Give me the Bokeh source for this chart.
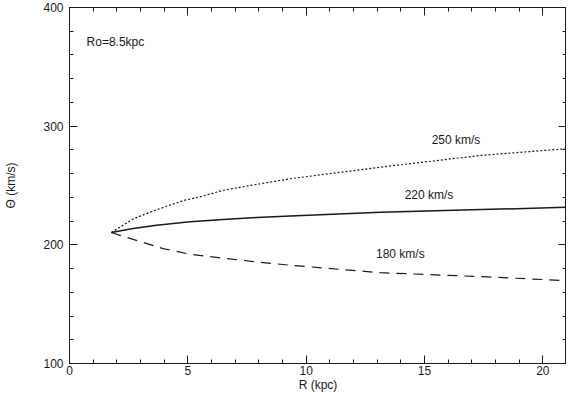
from bokeh.plotting import figure
from bokeh.models import LinearAxis, SingleIntervalTicker, Range1d, Label, CustomJSTickFormatter
from bokeh.embed import file_html
from bokeh.resources import INLINE

# Data (R in kpc, Theta in km/s)
R_250 = [1.77, 2.69, 3.39, 4.10, 4.81, 5.52, 6.50, 7.92, 9.33, 13.15, 17.40, 21.0]
theta_250 = [210.4, 221.8, 227.4, 232.5, 237.3, 240.5, 246, 251, 255.7, 265.5, 275.4, 281]
R_220 = [1.77, 2.69, 3.68, 5.09, 6.50, 7.92, 9.33, 13.15, 17.40, 21.0]
theta_220 = [210.4, 213.7, 216.5, 219.5, 221.3, 223, 224.3, 227.4, 229.7, 231.6]
R_180 = [1.77, 2.26, 3.11, 3.96, 5.09, 6.50, 7.92, 9.33, 13.15, 17.40, 21.0]
theta_180 = [210.4, 207.2, 202, 196.8, 192.1, 188.7, 185.6, 182.8, 176.5, 173.2, 169.8]

curve_labels = ["250 km/s", "220 km/s", "180 km/s"]
label_R = [16.33, 15.19, 13.98]
label_theta = [288, 242, 192.5]
note_text = "Ro=8.5kpc"
note_R, note_theta = 0.72, 371

FONT = "Liberation Sans"
INK = "#1a1a1a"

p = figure(width=566, height=394, output_backend="svg", toolbar_location=None,
           x_range=Range1d(0, 21), y_range=Range1d(100, 400),
           min_border_left=69, min_border_right=0, min_border_top=7, min_border_bottom=28,
           x_axis_label="R (kpc)", y_axis_label="Θ (km/s)")
p.grid.visible = False
p.outline_line_color = INK
p.outline_line_width = 1
p.background_fill_color = "white"
p.border_fill_color = "white"

def style_axis(ax, labels=True):
    ax.major_tick_in = 8
    ax.major_tick_out = 0
    ax.minor_tick_in = 4
    ax.minor_tick_out = 0
    ax.axis_line_color = INK
    ax.major_tick_line_color = INK
    ax.minor_tick_line_color = INK
    ax.major_tick_line_width = 1
    ax.minor_tick_line_width = 1
    ax.major_label_text_font = FONT
    ax.major_label_text_font_size = "12px"
    ax.major_label_text_color = INK
    ax.axis_label_text_font = FONT
    ax.axis_label_text_font_size = "12px"
    ax.axis_label_text_font_style = "normal"
    ax.axis_label_text_color = INK
    if not labels:
        ax.formatter = CustomJSTickFormatter(code="return ''")
        ax.major_label_standoff = 0

for ax in p.xaxis:
    ax.ticker = SingleIntervalTicker(interval=5, num_minor_ticks=5)
    style_axis(ax)
    ax.major_label_standoff = 2
    ax.axis_label_standoff = 0
for ax in p.yaxis:
    ax.ticker = SingleIntervalTicker(interval=100, num_minor_ticks=5)
    style_axis(ax)
    ax.major_label_standoff = 6
    ax.axis_label_standoff = 22

top = LinearAxis(ticker=SingleIntervalTicker(interval=5, num_minor_ticks=5))
style_axis(top, labels=False)
p.add_layout(top, "above")
right = LinearAxis(ticker=SingleIntervalTicker(interval=100, num_minor_ticks=5))
style_axis(right, labels=False)
p.add_layout(right, "right")

p.line(R_250, theta_250, line_color=INK, line_width=1.2, line_dash="2 2")
p.line(R_220, theta_220, line_color=INK, line_width=1.5)
p.line(R_180, theta_180, line_color=INK, line_width=1.2, line_dash="10 7")

for t, x, y in zip(curve_labels, label_R, label_theta):
    p.add_layout(Label(x=x, y=y, text=t, text_align="center", text_baseline="middle",
                       text_font=FONT, text_font_size="12px", text_color=INK))
p.add_layout(Label(x=note_R, y=note_theta, text=note_text, text_align="left",
                   text_baseline="middle", text_font=FONT, text_font_size="12px",
                   text_color=INK))

open("out.html", "w").write(file_html(p, INLINE))
